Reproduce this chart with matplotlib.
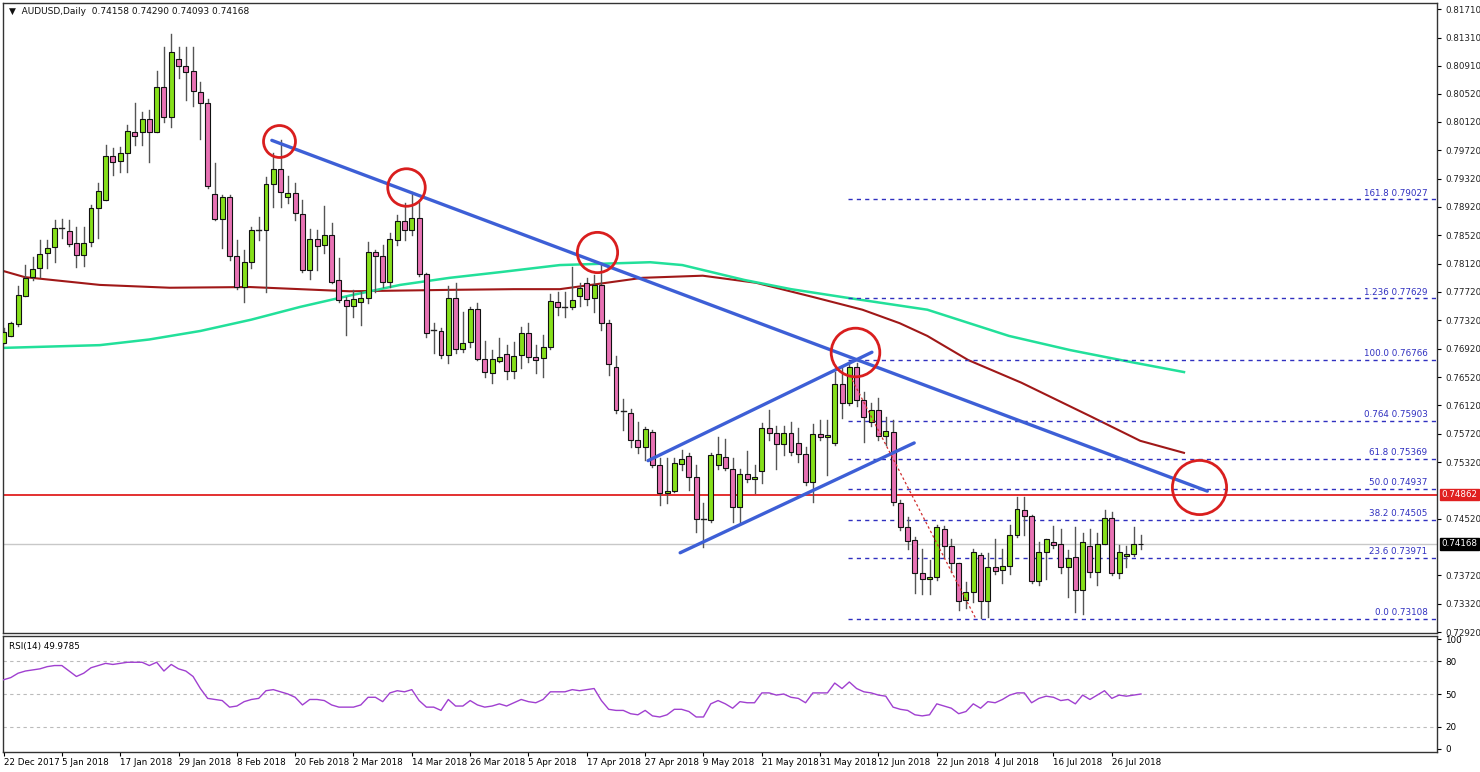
import matplotlib
matplotlib.use("Agg")
import matplotlib.pyplot as plt
from matplotlib.patches import Rectangle
import numpy as np

# ---------------- data ----------------
opens = [.7700,.7710,.7727,.7766,.7793,.7806,.7827,.7836,.7862,.7858,.7841,.7824,.7843,.7891,.7902,.7964,.7957,.7968,.7998,.7998,
 .8016,.7998,.8061,.8019,.8101,.8091,.8084,.8054,.8039,.7910,.7875,.7906,.7823,.7779,.7814,.7860,.7860,.7924,.7946,.7906,
 .7912,.7882,.7803,.7847,.7838,.7852,.7789,.7761,.7752,.7758,.7764,.7828,.7823,.7786,.7845,.7872,.7860,.7876,.7797,.7718,
 .7717,.7683,.7764,.7692,.7701,.7748,.7677,.7658,.7675,.7685,.7661,.7683,.7714,.7680,.7679,.7694,.7758,.7751,.7751,.7766,
 .7785,.7764,.7782,.7728,.7666,.7604,.7601,.7563,.7553,.7574,.7528,.7488,.7491,.7529,.7541,.7511,.7452,.7450,.7528,.7539,
 .7522,.7469,.7515,.7508,.7519,.7580,.7573,.7557,.7573,.7559,.7543,.7504,.7572,.7567,.7559,.7642,.7615,.7666,.7620,.7589,
 .7606,.7569,.7574,.7474,.7440,.7422,.7376,.7367,.7370,.7438,.7414,.7390,.7337,.7349,.7401,.7336,.7384,.7380,.7385,.7429,
 .7464,.7456,.7364,.7405,.7419,.7416,.7384,.7398,.7351,.7414,.7377,.7416,.7453,.7376,.7400,.7402,.74158]
closes = [.7716,.7728,.7768,.7792,.7804,.7826,.7834,.7862,.7862,.7840,.7824,.7841,.7891,.7915,.7964,.7955,.7968,.7999,.7992,.8016,
 .7998,.8061,.8019,.8111,.8091,.8082,.8056,.8039,.7922,.7875,.7906,.7823,.7779,.7814,.7860,.7860,.7924,.7946,.7913,.7912,
 .7883,.7803,.7847,.7837,.7852,.7786,.7761,.7752,.7762,.7764,.7828,.7823,.7786,.7847,.7872,.7860,.7876,.7797,.7714,.7718,
 .7683,.7764,.7692,.7700,.7748,.7677,.7659,.7677,.7680,.7661,.7682,.7714,.7680,.7676,.7694,.7759,.7751,.7751,.7761,.7778,
 .7762,.7782,.7728,.7670,.7606,.7604,.7563,.7553,.7579,.7528,.7488,.7491,.7531,.7536,.7511,.7452,.7452,.7542,.7543,.7524,
 .7469,.7515,.7508,.7511,.7580,.7573,.7557,.7573,.7546,.7543,.7504,.7572,.7567,.7570,.7642,.7615,.7666,.7620,.7596,.7606,
 .7569,.7576,.7476,.7440,.7421,.7376,.7367,.7370,.7440,.7414,.7390,.7336,.7349,.7405,.7336,.7384,.7378,.7385,.7429,.7466,
 .7456,.7364,.7405,.7424,.7415,.7384,.7397,.7351,.7419,.7377,.7416,.7453,.7376,.7405,.7402,.7416,.74168]
highs = [.7721,.7730,.7780,.7810,.7821,.7845,.7845,.7874,.7875,.7874,.7864,.7864,.7895,.7926,.7979,.7975,.7977,.8008,.8039,.8026,
 .8029,.8084,.8118,.8136,.8118,.8118,.8118,.8068,.8044,.7954,.7909,.7909,.7845,.7831,.7864,.7878,.7934,.7968,.7986,.7936,
 .7926,.7902,.7861,.7860,.7893,.7869,.7820,.7765,.7775,.7772,.7843,.7831,.7838,.7855,.7881,.7898,.7913,.7902,.7799,.7728,
 .7721,.7780,.7785,.7744,.7751,.7756,.7703,.7690,.7707,.7697,.7701,.7723,.7728,.7697,.7711,.7769,.7772,.7772,.7807,.7785,
 .7792,.7796,.7813,.7733,.7682,.7621,.7607,.7589,.7582,.7577,.7538,.7538,.7538,.7549,.7545,.7528,.7474,.7545,.7567,.7565,
 .7538,.7522,.7548,.7528,.7587,.7606,.7583,.7583,.7589,.7580,.7553,.7586,.7591,.7591,.7659,.7666,.7673,.7672,.7631,.7615,
 .7622,.7596,.7591,.7479,.7455,.7426,.7409,.7394,.7443,.7442,.7424,.7390,.7363,.7409,.7404,.7404,.7424,.7409,.7443,.7483,
 .7483,.7457,.7419,.7424,.7442,.7438,.7408,.7440,.7432,.7438,.7432,.7464,.7462,.7415,.7414,.7440,.74290]
lows = [.7700,.7710,.7724,.7766,.7789,.7793,.7806,.7814,.7848,.7837,.7807,.7809,.7837,.7848,.7902,.7937,.7941,.7941,.7979,.7979,
 .7955,.7998,.8012,.8005,.8074,.8043,.8034,.7988,.7919,.7874,.7834,.7817,.7776,.7758,.7806,.7845,.7772,.7892,.7892,.7898,
 .7874,.7800,.7790,.7803,.7827,.7785,.7758,.7711,.7737,.7725,.7756,.7772,.7779,.7779,.7838,.7845,.7852,.7795,.7709,.7686,
 .7679,.7672,.7686,.7687,.7694,.7676,.7652,.7644,.7673,.7649,.7651,.7665,.7673,.7658,.7652,.7692,.7740,.7737,.7748,.7752,
 .7754,.7744,.7718,.7655,.7601,.7577,.7553,.7545,.7535,.7525,.7471,.7474,.7490,.7521,.7493,.7433,.7412,.7448,.7522,.7521,
 .7448,.7448,.7504,.7488,.7503,.7563,.7522,.7542,.7542,.7532,.7500,.7476,.7563,.7514,.7556,.7594,.7612,.7611,.7560,.7583,
 .7563,.7556,.7471,.7436,.7409,.7347,.7346,.7346,.7366,.7397,.7377,.7323,.7326,.7335,.7312,.7313,.7374,.7361,.7374,.7426,
 .7429,.7361,.7359,.7367,.7411,.7376,.7342,.7320,.7318,.7370,.7359,.7416,.7373,.7368,.7384,.7400,.74093]

rsi = [63,65,69,71,72,73,75,76,76,71,66,69,74,76,78,77,78,79,79,79,76,79,71,77,73,71,66,55,46,45,44,38,39,43,45,46,53,54,52,50,
 47,40,45,45,44,40,38,38,38,40,47,47,43,51,53,52,54,44,38,38,35,45,39,39,44,40,38,39,41,39,42,45,43,42,45,52,52,52,54,53,
 54,55,44,36,35,35,32,31,35,30,29,31,36,36,34,29,29,41,44,41,37,43,42,42,51,51,49,50,47,46,42,51,51,51,60,55,61,55,52,51,
 49,48,38,36,35,31,30,31,41,39,37,32,34,41,37,43,42,45,49,51,51,42,46,48,47,44,45,41,49,45,49,53,46,49,48,49,49.98]

# moving averages (bar index, price)
ma_red_idx = [-0.5,2.9,13.2,22.8,33.8,47.5,61.2,70,76.3,82,87.6,95.9,103.2,111,117.8,122.9,126.7,132.3,139.6,149.2,155.9,161.9]
ma_red_val = [.7803,.7793,.7782,.7778,.7779,.7773,.7775,.7776,.7776,.7784,.7792,.7795,.7785,.7765,.7747,.7728,.7710,.7676,.7644,.7596,.7562,.7545]
ma_grn_idx = [-0.5,13.2,20,27,34,40.7,47.5,54.4,61.2,68.1,76.3,88.7,93.1,101.6,108,115.6,126.7,137.9,146.3,154.7,161.9]
ma_grn_val = [.7693,.7697,.7705,.7717,.7733,.7751,.7767,.7782,.7792,.7800,.7810,.7814,.7810,.7789,.7776,.7764,.7747,.7710,.7690,.7673,.7659]

# trend lines (bar index pairs, price pairs)
trend_main = ([36.8, 165.1], [.7986, .7491])
chan_upper = ([88.4, 119.1], [.7534, .7687])
chan_lower = ([92.8, 124.9], [.7404, .7559])
fib_swing = ([116.4, 133.3], [.7648, .7312])

circle_idx = [37.8, 55.2, 81.4, 116.8, 164.0]
circle_val = [.7985, .7920, .7828, .7687, .7497]
circle_diam_pt = [23, 27, 29, 35, 39]

fib_names = ["161.8", "1.236", "100.0", "0.764", "61.8", "50.0", "38.2", "23.6", "0.0"]
fib_levels = [0.79027, 0.77629, 0.76766, 0.75903, 0.75369, 0.74937, 0.74505, 0.73971, 0.73108]
fib_start = 115.8

resistance = 0.74862
last_price = 0.74168

ytick_vals = [0.81710,0.81310,0.80910,0.80520,0.80120,0.79720,0.79320,0.78920,0.78520,0.78120,0.77720,
              0.77320,0.76920,0.76520,0.76120,0.75720,0.75320,0.74520,0.73720,0.73320,0.72920]
date_labels = ["22 Dec 2017","5 Jan 2018","17 Jan 2018","29 Jan 2018","8 Feb 2018","20 Feb 2018","2 Mar 2018",
               "14 Mar 2018","26 Mar 2018","5 Apr 2018","17 Apr 2018","27 Apr 2018","9 May 2018","21 May 2018",
               "31 May 2018","12 Jun 2018","22 Jun 2018","4 Jul 2018","16 Jul 2018","26 Jul 2018"]
date_idx = [0,8,16,24,32,40,48,56,64,72,80,88,96,104,112,120,128,136,144,152]

# ---------------- drawing ----------------
W, H = 1480, 772
fig = plt.figure(figsize=(W/100, H/100), dpi=100)
fig.patch.set_facecolor("white")
plt.rcParams['font.family'] = ['DejaVu Sans']

def ax_rect(l, t, r, b):
    return [l/W, 1-b/H, (r-l)/W, (b-t)/H]

ax = fig.add_axes(ax_rect(3, 3, 1437, 633))
ar = fig.add_axes(ax_rect(3, 636, 1437, 752), sharex=ax)

n = len(closes)
xs = np.arange(n)
bw = 0.68
for i in range(n):
    o, c, h, l = opens[i], closes[i], highs[i], lows[i]
    ax.plot([i, i], [l, h], color="#555555", lw=1, zorder=3)
    if abs(c - o) < 0.00008:
        ax.plot([i-bw/2, i+bw/2], [c, c], color="#222222", lw=1, zorder=4)
    else:
        col = "#86E01A" if c > o else "#E872B4"
        ax.add_patch(Rectangle((i-bw/2, min(o, c)), bw, abs(c-o), facecolor=col,
                               edgecolor="#111111", lw=0.8, zorder=4))

ax.plot(ma_red_idx, ma_red_val, color="#A01818", lw=1.5, zorder=2)
ax.plot(ma_grn_idx, ma_grn_val, color="#22E09A", lw=1.8, zorder=2)

for tl in (trend_main, chan_upper, chan_lower):
    ax.plot(tl[0], tl[1], color="#3D5FD6", lw=2.4, zorder=5, solid_capstyle="round")
ax.plot(fib_swing[0], fib_swing[1], color="#D03030", lw=0.9, ls=(0, (2, 2)), zorder=5)

for nm, lv in zip(fib_names, fib_levels):
    ax.plot([fib_start, 196.6], [lv, lv], color="#3030C0", lw=1, ls=(0, (3, 3)), zorder=2)
    ax.text(195.3, lv + 0.00025, f"{nm} {lv:.5f}", color="#3030C0", fontsize=6.3,
            ha="right", va="bottom", zorder=6)

ax.axhline(resistance, color="#E02020", lw=1.3, zorder=2)
ax.axhline(last_price, color="#C8C8C8", lw=1, zorder=1)

for cx, cy, d in zip(circle_idx, circle_val, circle_diam_pt):
    ax.plot(cx, cy, marker="o", ms=d, mfc="none", mec="#D91E1E", mew=2, zorder=7)

ax.set_xlim(-0.07, 196.6)
ax.set_ylim(0.72908, 0.81798)
ax.yaxis.tick_right()
ax.set_yticks(ytick_vals)
ax.set_yticklabels([f"{v:.5f}" for v in ytick_vals], fontsize=6.3, color="#222222")
ax.tick_params(axis="y", length=3, pad=3, width=0.8)
ax.tick_params(axis="x", bottom=False, labelbottom=False)
for s in ax.spines.values():
    s.set_color("#333333"); s.set_linewidth(1)

bbox_r = dict(boxstyle="square,pad=0.15", fc="#E02020", ec="#E02020")
ax.text(1.003, resistance, f"{resistance:.5f}", transform=ax.get_yaxis_transform(),
        fontsize=6.3, color="white", va="center", ha="left", bbox=bbox_r, zorder=8, clip_on=False)
bbox_k = dict(boxstyle="square,pad=0.15", fc="black", ec="black")
ax.text(1.003, last_price, f"{last_price:.5f}", transform=ax.get_yaxis_transform(),
        fontsize=6.3, color="white", va="center", ha="left", bbox=bbox_k, zorder=8, clip_on=False)

ax.text(0.004, 0.993, "▼  AUDUSD,Daily  %.5f %.5f %.5f %.5f" % (opens[-1], highs[-1], lows[-1], closes[-1]),
        transform=ax.transAxes, fontsize=6.5, va="top", ha="left", color="#111111")

# RSI panel
ar.plot(xs, rsi, color="#A040D0", lw=1, zorder=3)
for lv in (80, 50, 20):
    ar.axhline(lv, color="#BBBBBB", lw=0.8, ls=(0, (3, 3)), zorder=1)
ar.set_ylim(-3, 103)
ar.yaxis.tick_right()
ar.set_yticks([100, 80, 50, 20, 0])
ar.set_yticklabels(["100", "80", "50", "20", "0"], fontsize=6.3)
ar.tick_params(axis="y", length=3, pad=3, width=0.8)
ar.set_xticks(date_idx)
ar.set_xticklabels(date_labels, fontsize=6.3, ha="left")
ar.tick_params(axis="x", length=3, pad=1.5, width=0.8)
for s in ar.spines.values():
    s.set_color("#333333"); s.set_linewidth(1)
ar.text(0.004, 0.95, "RSI(14) %.4f" % 49.9785, transform=ar.transAxes, fontsize=6.3, va="top", ha="left")

fig.savefig("out.png", dpi=100, facecolor="white")
